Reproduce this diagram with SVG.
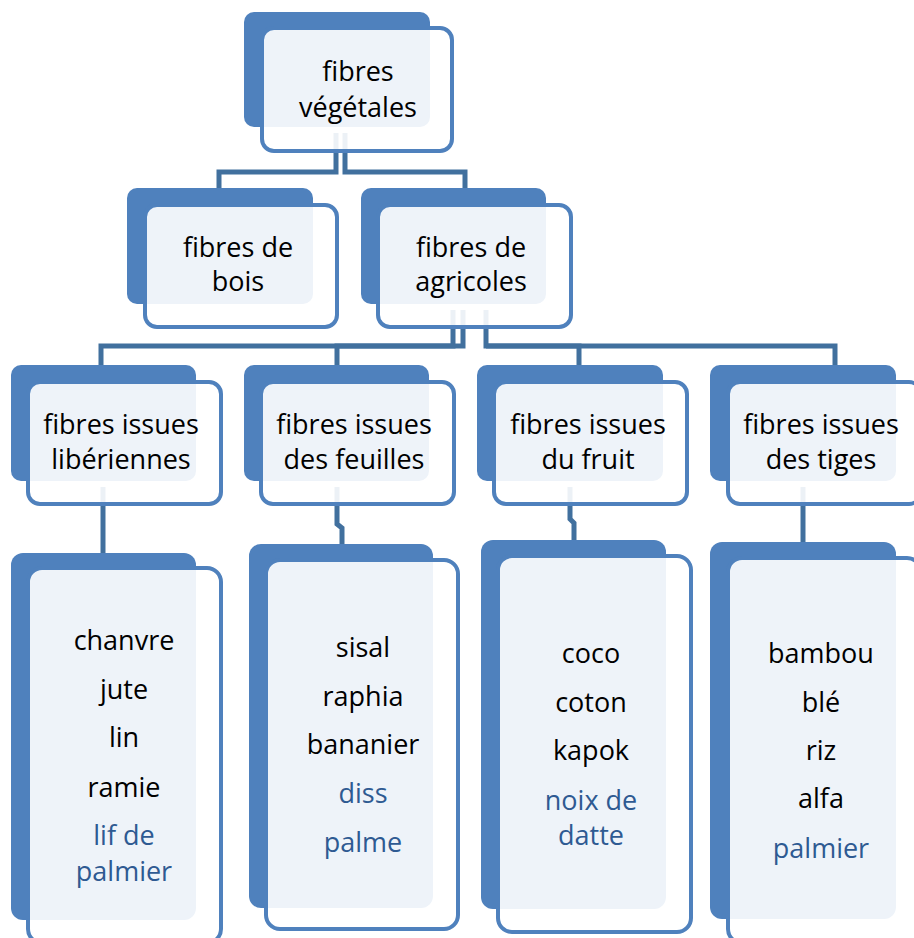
<svg xmlns="http://www.w3.org/2000/svg" width="914" height="938" viewBox="0 0 914 938">
<defs>
<style>
.back{fill:#4F81BD}
.front{fill:#FFFFFF;fill-opacity:0.9;stroke:#4F81BD;stroke-width:4}
.conn{fill:none;stroke:#41709E;stroke-width:5}
text{font-family:"Open Sans","Liberation Sans",sans-serif;font-size:27px;fill:#000;text-anchor:middle}
.blue{fill:#2E5A92}
</style>
</defs>
<rect width="914" height="938" fill="#FFFFFF"/>
<g id="connectors">
<path class="conn" d="M336 133 V172 H219 V190"/>
<path class="conn" d="M345 133 V172 H465 V190"/>
<path class="conn" d="M453 310 V346 H101 V367"/>
<path class="conn" d="M463 310 V346 H337 V367"/>
<path class="conn" d="M486 310 V346 H579 V367"/>
<path class="conn" d="M486 346 H835 V367"/>
<path class="conn" d="M103 487 V555"/>
<path class="conn" d="M337 487 V524 L342 528 V546"/>
<path class="conn" d="M570 487 V519 L574 523 V542"/>
<path class="conn" d="M803 487 V544"/>
</g>
<g id="n-vegetales">
<rect class="back" x="244" y="12" width="186" height="115" rx="10"/>
<rect class="front" x="262" y="28" width="190" height="123" rx="12"/>
<text x="358" y="81">fibres</text>
<text x="358" y="117">végétales</text>
</g>
<g id="n-bois">
<rect class="back" x="127" y="188" width="186" height="116" rx="10"/>
<rect class="front" x="145" y="205" width="192" height="122" rx="12"/>
<text x="238" y="257">fibres de</text>
<text x="238" y="291">bois</text>
</g>
<g id="n-agricoles">
<rect class="back" x="361" y="188" width="185" height="116" rx="10"/>
<rect class="front" x="378" y="205" width="193" height="122" rx="12"/>
<text x="471" y="257">fibres de</text>
<text x="471" y="291">agricoles</text>
</g>
<g id="n-liberiennes">
<rect class="back" x="11" y="365" width="185" height="116" rx="10"/>
<rect class="front" x="28" y="382" width="193" height="122" rx="12"/>
<text x="121" y="434">fibres issues</text>
<text x="121" y="469">libériennes</text>
</g>
<g id="n-feuilles">
<rect class="back" x="244" y="365" width="185" height="116" rx="10"/>
<rect class="front" x="261" y="382" width="193" height="122" rx="12"/>
<text x="354" y="434">fibres issues</text>
<text x="354" y="469">des feuilles</text>
</g>
<g id="n-fruit">
<rect class="back" x="477" y="365" width="186" height="116" rx="10"/>
<rect class="front" x="494" y="382" width="193" height="122" rx="12"/>
<text x="588" y="434">fibres issues</text>
<text x="588" y="469">du fruit</text>
</g>
<g id="n-tiges">
<rect class="back" x="710" y="365" width="186" height="116" rx="10"/>
<rect class="front" x="728" y="382" width="193" height="122" rx="12"/>
<text x="821" y="434">fibres issues</text>
<text x="821" y="469">des tiges</text>
</g>
<g id="l-liberiennes">
<rect class="back" x="11" y="553" width="185" height="367" rx="12"/>
<rect class="front" x="28" y="568" width="193" height="375" rx="14"/>
<text x="124" y="650">chanvre</text>
<text x="124" y="699">jute</text>
<text x="124" y="747">lin</text>
<text x="124" y="797">ramie</text>
<text class="blue" x="124" y="845">lif de</text>
<text class="blue" x="124" y="881">palmier</text>
</g>
<g id="l-feuilles">
<rect class="back" x="249" y="544" width="184" height="364" rx="12"/>
<rect class="front" x="266" y="560" width="192" height="369" rx="14"/>
<text x="363" y="657">sisal</text>
<text x="363" y="706">raphia</text>
<text x="363" y="754">bananier</text>
<text class="blue" x="363" y="803">diss</text>
<text class="blue" x="363" y="852">palme</text>
</g>
<g id="l-fruit">
<rect class="back" x="481" y="540" width="185" height="369" rx="12"/>
<rect class="front" x="498" y="556" width="193" height="376" rx="14"/>
<text x="591" y="663">coco</text>
<text x="591" y="712">coton</text>
<text x="591" y="760">kapok</text>
<text class="blue" x="591" y="810">noix de</text>
<text class="blue" x="591" y="845">datte</text>
</g>
<g id="l-tiges">
<rect class="back" x="710" y="542" width="186" height="377" rx="12"/>
<rect class="front" x="728" y="558" width="193" height="385" rx="14"/>
<text x="821" y="663">bambou</text>
<text x="821" y="712">blé</text>
<text x="821" y="760">riz</text>
<text x="821" y="808">alfa</text>
<text class="blue" x="821" y="858">palmier</text>
</g>
</svg>
